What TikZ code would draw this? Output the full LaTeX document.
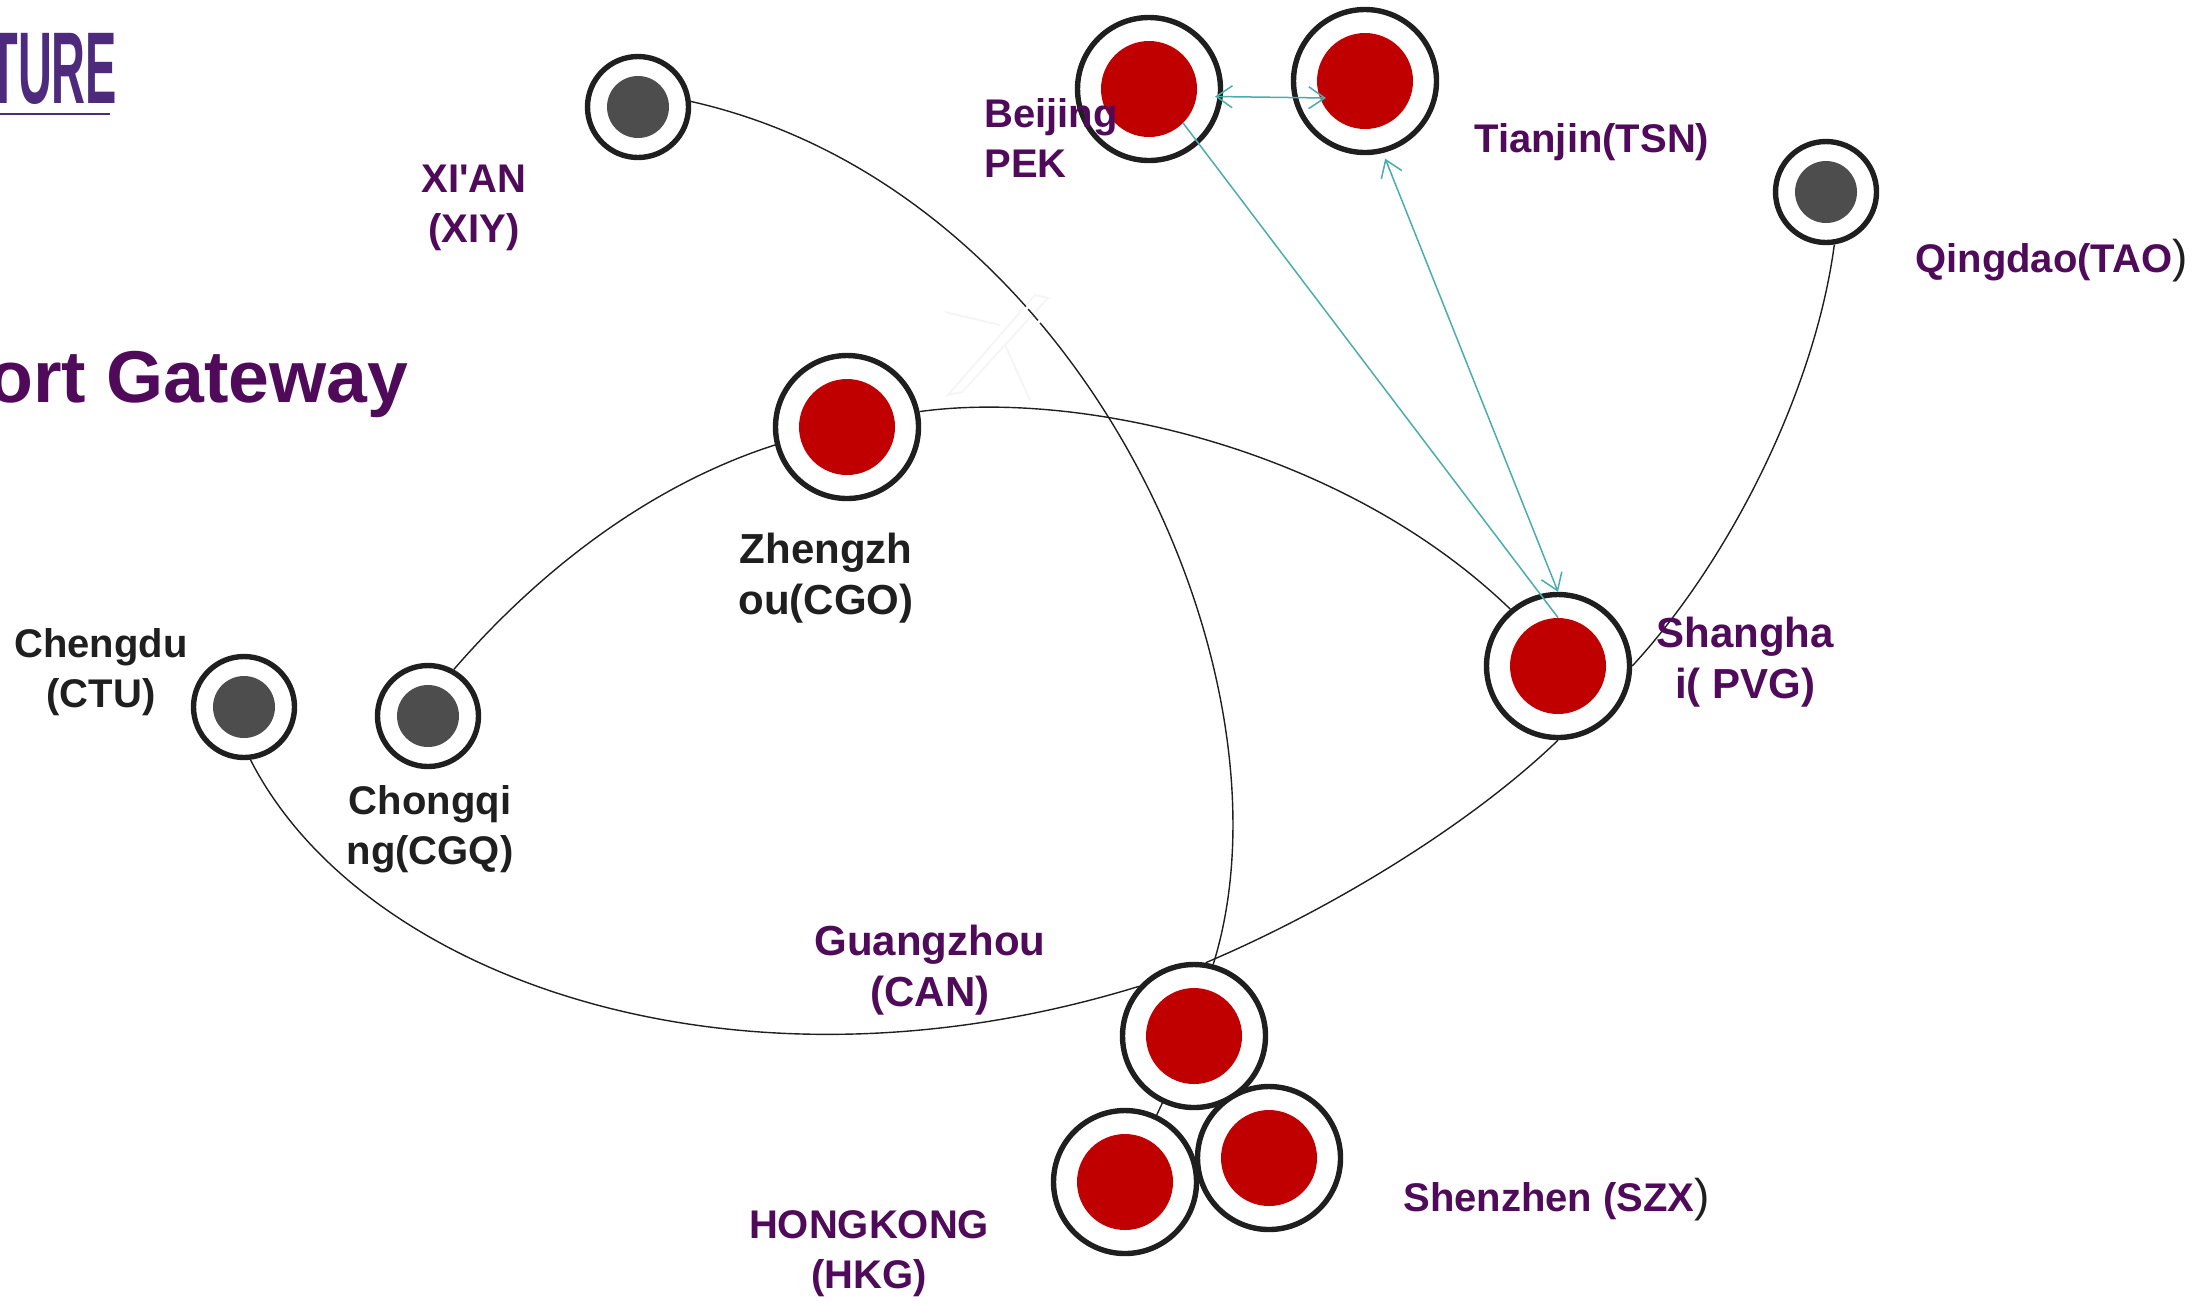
\documentclass[tikz,border=0pt]{standalone}
\usepackage{fontspec}
\setmainfont{Liberation Sans}
\usepackage{tikz}
\usetikzlibrary{arrows.meta, positioning, calc}

\definecolor{gatepurple}{HTML}{500A5A}
\definecolor{logopurple}{HTML}{4E2A7C}
\definecolor{ringdark}{HTML}{1F1F1F}
\definecolor{hubred}{HTML}{C00000}
\definecolor{spokegray}{HTML}{4D4D4D}
\definecolor{linkteal}{HTML}{4BACAD}

\tikzset{
    hub/.style={circle, draw=ringdark, fill=white, line width=2.7pt, minimum size=71.5pt, inner sep=0pt},
    hubcore/.style={circle, fill=hubred, minimum size=48pt, inner sep=0pt},
    spoke/.style={circle, draw=ringdark, fill=white, line width=2.7pt, minimum size=50.5pt, inner sep=0pt},
    spokecore/.style={circle, fill=spokegray, minimum size=31pt, inner sep=0pt},
    citylabel/.style={font=\fontsize{20}{25}\selectfont\bfseries, text=gatepurple, align=center, inner sep=0pt},
    darklabel/.style={citylabel, text=ringdark},
    route/.style={draw=ringdark, line width=0.7pt},
    link/.style={draw=linkteal, line width=0.75pt},
    barbs/.style={{Straight Barb[length=8pt, width=11pt]}-{Straight Barb[length=8pt, width=11pt]}}
}

\begin{document}
\begin{tikzpicture}[x=0.5pt, y=-0.5pt]
    \useasboundingbox (0,0) rectangle (2203,1303);
    \clip (0,0) rectangle (2203,1303);

    % cropped logo and heading
    \node (logo) [anchor=base west, inner sep=0pt, text=logopurple, font=\fontsize{51}{51}\selectfont\bfseries] at (-11,103) {\scalebox{.46}[1]{TURE}};
    \draw[logopurple, line width=1pt] (0,114) -- (110,114);
    \node (heading) [anchor=base west, inner sep=0pt, text=gatepurple, font=\fontsize{36.7}{40}\selectfont\bfseries] at (-12,402) {ort Gateway};

    % faint plane behind the routes
    \draw[black!4, line width=1pt] (1048,298) -- (962,392) -- (948,395) -- (1035,295) -- cycle;
    \draw[black!4, line width=1pt] (1000,325) -- (945,312) (1005,345) -- (1030,400);

    % airports
    \node[spoke] (xiy) at (638,107) {};
    \node[spokecore] (xiycore) at (xiy) {};
    \node[hub] (pek) at (1149,89) {};
    \node[hubcore] (pekcore) at (pek) {};
    \node[hub] (tsn) at (1365,81) {};
    \node[hubcore] (tsncore) at (tsn) {};
    \node[spoke] (tao) at (1826,192) {};
    \node[spokecore] (taocore) at (tao) {};
    \node[hub] (cgo) at (847,427) {};
    \node[hubcore] (cgocore) at (cgo) {};
    \node[hub] (pvg) at (1558,666) {};
    \node[hubcore] (pvgcore) at (pvg) {};
    \node[spoke] (ctu) at (244,707) {};
    \node[spokecore] (ctucore) at (ctu) {};
    \node[spoke] (ckg) at (428,716) {};
    \node[spokecore] (ckgcore) at (ckg) {};
    \node[hub] (can) at (1194,1036) {};
    \node[hubcore] (cancore) at (can) {};
    \node[hub] (hkg) at (1125,1182) {};
    \node[hubcore] (hkgcore) at (hkg) {};
    \node[hub] (szx) at (1269,1158) {};
    \node[hubcore] (szxcore) at (szx) {};

    % routes
    \draw[route] (xiy.6) .. controls (1085,190) and (1302,680) .. (can.75);
    \draw[route] (cgo.12) .. controls (1075,390) and (1340,445) .. (pvg.130);
    \draw[route] (ckg.61) .. controls (540,570) and (650,485) .. (cgo.194);
    \draw[route] (ctu.-83) .. controls (360,975) and (730,1112) .. (can.138);
    \draw[route] (can.81) .. controls (1330,910) and (1470,825) .. (pvg.south);
    \draw[route] (tao.-81) .. controls (1815,390) and (1730,560) .. (pvg.east);
    \draw[route] (hkg) -- (can);

    % breaks in the xi'an route
    \draw[white, line width=1.5pt] (1022,312) -- (1034,302) (1035,325) -- (1047,315);

    % links out of shanghai
    \coordinate (pekout) at (1215,96.5);
    \coordinate (tsnin) at (1326,98);
    \draw[link, barbs] (pekout) -- (tsnin);
    \draw[link] (pekcore.-45) -- (pvgcore.north);
    \draw[link, barbs, shorten <=3pt] (tsn.-76) -- (pvg.north);

    % labels
    \node[citylabel, anchor=base] (xiylabel) at (474,242) {XI\textquotesingle AN\\(XIY)};
    \node[citylabel, anchor=base west, align=left] (peklabel) at (984,177) {Beijing\\PEK};
    \node[citylabel, anchor=base west] (tsnlabel) at (1474,152) {Tianjin(TSN)};
    \node[citylabel, anchor=base west] (taolabel) at (1915,272) {Qingdao(TAO\textcolor{ringdark}{\mdseries\fontsize{23}{25}\selectfont)}};
    \node[citylabel, anchor=base, font=\fontsize{21}{25.5}\selectfont\bfseries] (pvglabel) at (1745,698) {Shangha\\i( PVG)};
    \node[darklabel, anchor=base, font=\fontsize{21}{25.5}\selectfont\bfseries] (cgolabel) at (826,614) {Zhengzh\\ou(CGO)};
    \node[darklabel, anchor=base] (ctulabel) at (101,707) {Chengdu\\(CTU)};
    \node[darklabel, anchor=base] (ckglabel) at (430,864) {Chongqi\\ng(CGQ)};
    \node[citylabel, anchor=base, font=\fontsize{21}{25.5}\selectfont\bfseries] (canlabel) at (930,1006) {Guangzhou\\(CAN)};
    \node[citylabel, anchor=base] (hkglabel) at (869,1288) {HONGKONG\\(HKG)};
    \node[citylabel, anchor=base west] (szxlabel) at (1403,1211) {Shenzhen (SZX\textcolor{ringdark}{\mdseries\fontsize{23}{25}\selectfont)}};
\end{tikzpicture}
\end{document}
